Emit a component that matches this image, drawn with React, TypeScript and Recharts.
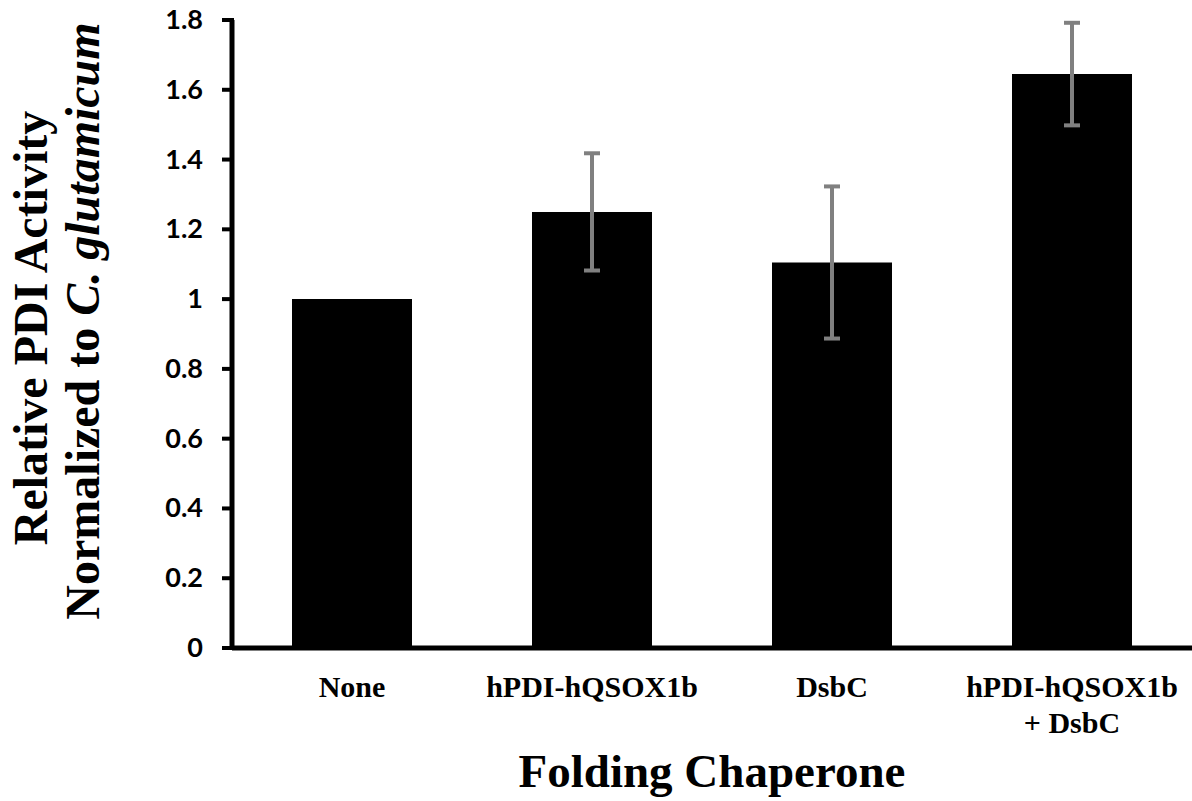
import { Bar, BarChart, ErrorBar, Label, ReferenceLine, XAxis, YAxis } from 'recharts';

const categories = ['None', 'hPDI-hQSOX1b', 'DsbC', 'hPDI-hQSOX1b\n+ DsbC'];
const activity = [1.0, 1.25, 1.105, 1.645];
const activityErr = [null, 0.168, 0.218, 0.147];
const yTicks = [0, 0.2, 0.4, 0.6, 0.8, 1, 1.2, 1.4, 1.6, 1.8];

const data = categories.map((name, i) => ({
  name,
  value: activity[i],
  err: activityErr[i],
}));

const serif = '"Liberation Serif", "Times New Roman", serif';
const sans = 'Lato, Carlito, Calibri, sans-serif';

function CategoryTick(props: any) {
  const { x, y, payload } = props;
  const lines = String(payload.value).split('\n');
  return (
    <text
      x={x}
      y={y + 49}
      textAnchor="middle"
      fontFamily={serif}
      fontWeight="bold"
      fontSize={30}
      fill="#000"
    >
      {lines.map((l, i) => (
        <tspan key={i} x={x} dy={i === 0 ? 0 : 36}>
          {l}
        </tspan>
      ))}
    </text>
  );
}

// y tick: label plus a heavy outward tick mark
function ValueTick(props: any) {
  const { x, y, payload } = props;
  return (
    <g>
      <line x1={x + 19} x2={x + 31} y1={y} y2={y} stroke="#000" strokeWidth={4} />
      <text
        x={x}
        y={y}
        dy={9}
        textAnchor="end"
        fontFamily={sans}
        fontWeight={700}
        fontSize={27}
        fill="#000"
      >
        {String(payload.value)}
      </text>
    </g>
  );
}

// two-line rotated y title
function YTitle(props: any) {
  const { viewBox } = props;
  const mid = viewBox.y + viewBox.height / 2;
  const x1 = 47;
  const y1 = mid - 6;
  const x2 = 99;
  const y2 = mid - 13;
  return (
    <g fontFamily={serif} fontWeight="bold" fontSize={48} fill="#000">
      <text x={x1} y={y1} textAnchor="middle" transform={`rotate(-90, ${x1}, ${y1})`}>
        Relative PDI Activity
      </text>
      <text x={x2} y={y2} textAnchor="middle" transform={`rotate(-90, ${x2}, ${y2})`}>
        Normalized to <tspan fontStyle="italic">C. glutamicum</tspan>
      </text>
    </g>
  );
}

function XTitle(props: any) {
  const { viewBox } = props;
  return (
    <text
      x={viewBox.x + viewBox.width / 2}
      y={viewBox.y + 139}
      textAnchor="middle"
      fontFamily={serif}
      fontWeight="bold"
      fontSize={47}
      fill="#000"
    >
      Folding Chaperone
    </text>
  );
}

export default function App() {
  return (
    <div style={{ position: 'absolute', left: 0, top: 0, background: '#fff' }}>
      <BarChart
        width={1192}
        height={801}
        data={data}
        margin={{ top: 20, right: 0, left: 0, bottom: 0 }}
        barCategoryGap="25%"
      >
        <XAxis
          dataKey="name"
          height={153}
          interval={0}
          tickLine={false}
          tickSize={0}
          tickMargin={0}
          axisLine={false}
          tick={<CategoryTick />}
        >
          <Label content={<XTitle />} />
        </XAxis>
        <YAxis
          width={232}
          domain={[0, 1.8]}
          ticks={yTicks}
          interval={0}
          tickSize={10}
          tickMargin={19}
          axisLine={false}
          tickLine={false}
          tick={<ValueTick />}
        >
          <Label content={<YTitle />} />
        </YAxis>
        <Bar dataKey="value" fill="#000" isAnimationActive={false}>
          <ErrorBar
            dataKey="err"
            direction="y"
            width={8}
            stroke="#808080"
            strokeWidth={4}
            isAnimationActive={false}
          />
        </Bar>
        <ReferenceLine x={categories[0]} position="start" stroke="#000" strokeWidth={5} ifOverflow="visible" />
        <ReferenceLine y={0} stroke="#000" strokeWidth={5} ifOverflow="visible" />
      </BarChart>
    </div>
  );
}
